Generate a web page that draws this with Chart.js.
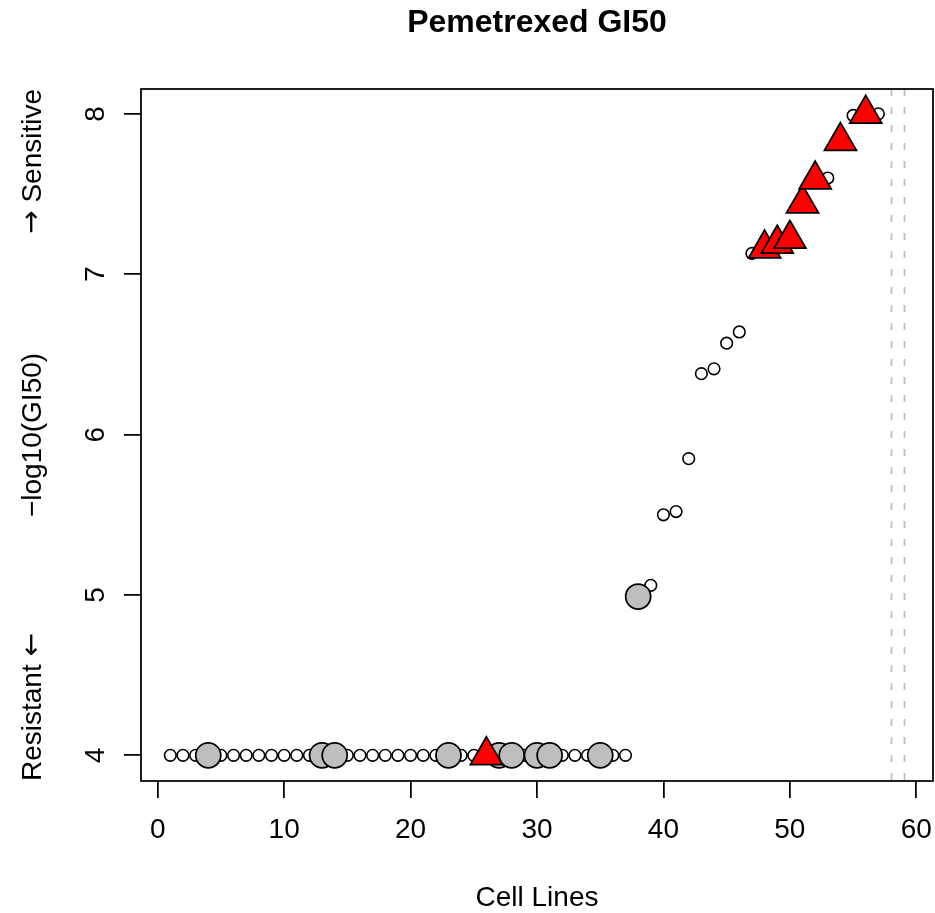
<!DOCTYPE html>
<html>
<head>
<meta charset="utf-8">
<script src="https://cdn.jsdelivr.net/npm/chart.js@4"></script>
<style>
  html, body { margin: 0; padding: 0; background: #fff; }
  canvas { display: block; }
</style>
</head>
<body>
<canvas id="chart" width="935" height="913"></canvas>
<script>
// -log10(GI50) per cell line, sorted, cell lines 1..57
const gi50 = [
  4, 4, 4, 4, 4, 4, 4, 4, 4, 4,
  4, 4, 4, 4, 4, 4, 4, 4, 4, 4,
  4, 4, 4, 4, 4, 4, 4, 4, 4, 4,
  4, 4, 4, 4, 4, 4, 4, 4.99, 5.06, 5.50,
  5.52, 5.85, 6.38, 6.41, 6.57, 6.64, 7.13, 7.16, 7.19, 7.22,
  7.44, 7.59, 7.60, 7.83, 7.99, 8.00, 8.00
];
const greyCells = [4, 13, 14, 23, 27, 28, 30, 31, 35, 38];
const redCells = [26, 48, 49, 50, 51, 52, 54, 56];
const missingCells = [58, 59];
const xTicks = [0, 10, 20, 30, 40, 50, 60];
const yTicks = [4, 5, 6, 7, 8];

const FONT = '"Liberation Sans", Arial, Helvetica, sans-serif';
const ARROW_FONT = '"DejaVu Sans", sans-serif';

const rStyle = {
  id: 'rStyle',
  beforeDatasetsDraw(chart) {
    const { ctx, chartArea: a, scales: { x } } = chart;
    ctx.save();
    ctx.strokeStyle = '#bebebe';
    ctx.lineWidth = 1.75;
    ctx.setLineDash([7, 11]);
    missingCells.forEach(c => {
      const px = Math.round(x.getPixelForValue(c)) + 0.5;
      ctx.beginPath();
      ctx.moveTo(px, a.top);
      ctx.lineTo(px, a.bottom);
      ctx.stroke();
    });
    ctx.restore();
  },
  afterDraw(chart) {
    const { ctx, chartArea: a, scales: { x, y } } = chart;
    ctx.save();
    // plot box
    ctx.strokeStyle = '#000';
    ctx.lineWidth = 1.75;
    ctx.strokeRect(a.left, a.top, a.right - a.left, a.bottom - a.top);

    ctx.fillStyle = '#000';
    ctx.textBaseline = 'middle';
    ctx.textAlign = 'center';
    ctx.font = 'bold 32px ' + FONT;
    ctx.fillText('Pemetrexed GI50', (a.left + a.right) / 2, 23);

    ctx.font = '28px ' + FONT;
    xTicks.forEach(v => ctx.fillText(String(v), x.getPixelForValue(v), 830));
    ctx.fillText('Cell Lines', (a.left + a.right) / 2, 898);

    yTicks.forEach(v => {
      ctx.save();
      ctx.translate(96, y.getPixelForValue(v));
      ctx.rotate(-Math.PI / 2);
      ctx.fillText(String(v), 0, 0);
      ctx.restore();
    });

    // rotated y-axis titles
    ctx.save();
    ctx.translate(33, 0);
    ctx.rotate(-Math.PI / 2);
    ctx.textAlign = 'center';
    ctx.fillText('\u2212log10(GI50)', -(a.top + a.bottom) / 2, 0);

    ctx.textAlign = 'left';
    const resist = 'Resistant ';
    ctx.fillText(resist, -a.bottom, 0);
    const wRes = ctx.measureText(resist).width;
    ctx.font = '28px ' + ARROW_FONT;
    ctx.fillText('\u2190', -a.bottom + wRes, 0);

    ctx.font = '28px ' + FONT;
    const sens = ' Sensitive';
    const wSens = ctx.measureText(sens).width;
    ctx.textAlign = 'right';
    ctx.fillText(sens, -a.top, 0);
    ctx.font = '28px ' + ARROW_FONT;
    ctx.fillText('\u2192', -a.top - wSens, 0);
    ctx.restore();

    ctx.restore();
  }
};

const axisGrid = {
  display: true,
  drawOnChartArea: false,
  drawTicks: true,
  tickLength: 17,
  color: '#000',
  lineWidth: 1.75
};

new Chart(document.getElementById('chart'), {
  type: 'scatter',
  data: {
    datasets: [
      {
        label: 'highlight',
        data: redCells.map(c => ({ x: c, y: gi50[c - 1] })),
        pointStyle: 'triangle',
        pointRadius: 18.5,
        backgroundColor: '#ff0000',
        borderColor: '#000',
        borderWidth: 1.75
      },
      {
        label: 'grey',
        data: greyCells.map(c => ({ x: c, y: gi50[c - 1] })),
        pointStyle: 'circle',
        pointRadius: 12.5,
        backgroundColor: '#bebebe',
        borderColor: '#000',
        borderWidth: 1.75
      },
      {
        label: 'all',
        data: gi50.map((v, i) => ({ x: i + 1, y: v })),
        pointStyle: 'circle',
        pointRadius: 5.8,
        backgroundColor: '#fff',
        borderColor: '#000',
        borderWidth: 1.6
      }
    ]
  },
  options: {
    responsive: false,
    animation: false,
    devicePixelRatio: 1,
    layout: { autoPadding: false, padding: { top: 89, right: 2, bottom: 0, left: 0 } },
    plugins: { legend: { display: false }, tooltip: { enabled: false }, title: { display: false } },
    scales: {
      x: {
        type: 'linear',
        min: -1.32,
        max: 61.32,
        grid: axisGrid,
        border: { display: false },
        ticks: { display: false },
        afterBuildTicks: s => { s.ticks = xTicks.map(v => ({ value: v })); },
        afterFit: s => { s.height = 132; }
      },
      y: {
        type: 'linear',
        min: 3.84,
        max: 8.155,
        grid: axisGrid,
        border: { display: false },
        ticks: { display: false },
        afterBuildTicks: s => { s.ticks = yTicks.map(v => ({ value: v })); },
        afterFit: s => { s.width = 141; }
      }
    }
  },
  plugins: [rStyle]
});
</script>
</body>
</html>
